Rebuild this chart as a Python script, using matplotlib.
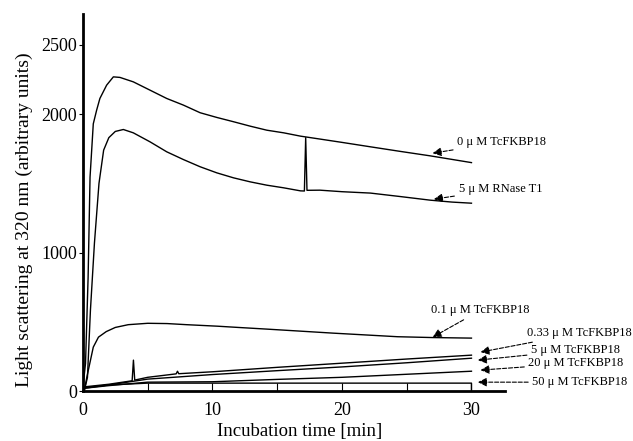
import matplotlib.pyplot as plt

plt.rcParams['font.family'] = ['Liberation Serif', 'DejaVu Serif']

# traces (time in min, light scattering a.u.)
t_0uM = [0, 0.2, 0.4, 0.55, 0.8, 1.06, 1.31, 1.83, 2.35, 2.86, 3.89, 5.18, 6.47,
         7.76, 9.05, 10.34, 11.63, 12.92, 14.2, 15.5, 16.8, 18.3, 20, 22.2, 24.5,
         26.8, 28.5, 30]
y_0uM = [30, 200, 820, 1545, 1930, 2029, 2113, 2209, 2269, 2265, 2233, 2173, 2113,
         2065, 2010, 1976, 1945, 1913, 1884, 1865, 1841, 1820, 1796, 1764, 1731,
         1699, 1673, 1650]

t_rnase = [0.1, 0.35, 0.58, 0.89, 1.24, 1.6, 2.0, 2.5, 3.12, 3.89, 5.18, 6.47, 7.76,
           9.05, 10.34, 11.63, 12.92, 14.2, 15.5, 16.8, 17.1, 17.2, 17.3, 18.3, 20,
           22.2, 24.5, 26.8, 28.5, 30]
y_rnase = [0, 100, 585, 1070, 1500, 1740, 1830, 1875, 1889, 1865, 1800, 1728, 1672,
           1620, 1576, 1540, 1511, 1487, 1468, 1446, 1445, 1830, 1450, 1451, 1440,
           1430, 1405, 1379, 1365, 1357]

t_01 = [0.1, 0.3, 0.8, 1.2, 1.8, 2.5, 3.5, 5, 6.5, 8, 10.4, 12, 14.2, 16.5, 19.3,
        22, 24.3, 27, 30]
y_01 = [0, 100, 318, 390, 430, 460, 480, 490, 488, 480, 469, 460, 448, 435, 419,
        405, 393, 387, 383]

t_033 = [0, 2, 3.8, 3.9, 4.0, 5, 7.2, 7.3, 7.4, 10, 15, 20, 25, 30]
y_033 = [30, 50, 75, 224, 80, 100, 125, 144, 126, 140, 172, 202, 232, 260]

t_5 = [0, 2, 5, 10, 15, 20, 25, 30]
y_5 = [25, 45, 87, 120, 148, 175, 205, 238]

t_20 = [0, 2, 5, 10, 15, 20, 25, 30]
y_20 = [20, 40, 65, 68, 85, 100, 122, 144]

t_50 = [0, 2, 5, 10, 20, 30, 30]
y_50 = [20, 45, 58, 58, 58, 58, 0]

# label text, arrow head (x, y), text position (x, y)
labels = ['0 \u03bc M TcFKBP18', '5 \u03bc M RNase T1', '0.1 \u03bc M TcFKBP18',
          '0.33 \u03bc M TcFKBP18', '5 \u03bc M TcFKBP18', '20 \u03bc M TcFKBP18',
          '50 \u03bc M TcFKBP18']
heads = [(27.0, 1718), (27.1, 1386), (27.0, 390), (30.7, 282), (30.5, 224),
         (30.7, 152), (30.5, 65)]
texts = [(28.9, 1798), (29.0, 1458), (30.7, 540), (34.3, 419), (34.6, 296),
         (34.4, 202), (34.7, 65)]

fig = plt.figure(figsize=(6.33, 4.41), dpi=100)
ax = fig.add_axes([0.131, 0.113, 0.667, 0.855])

for t, y in [(t_0uM, y_0uM), (t_rnase, y_rnase), (t_01, y_01), (t_033, y_033),
             (t_5, y_5), (t_20, y_20), (t_50, y_50)]:
    ax.plot(t, y, color='black', lw=1.0)

for lab, h, tx in zip(labels, heads, texts):
    ha = 'center' if lab.startswith('0.1 ') else 'left'
    va = 'bottom' if lab.startswith('0.1 ') else 'center'
    ax.annotate(lab, xy=h, xytext=tx, ha=ha, va=va, fontsize=9,
                annotation_clip=False,
                arrowprops=dict(arrowstyle='-|>', linestyle='--', color='black',
                                lw=0.8, mutation_scale=13, shrinkA=1, shrinkB=0))

ax.set_xlim(0, 32.6)
ax.set_ylim(0, 2722)
ax.set_xticks([0, 10, 20, 30])
ax.set_xticks([5, 15, 25], minor=True)
ax.set_yticks([0, 1000, 2000, 2500])
ax.tick_params(axis='x', which='both', direction='in', length=6, width=0.8,
               labelsize=13, pad=8)
ax.tick_params(axis='y', direction='out', length=3, width=0.8, labelsize=13, pad=1)
for s in ['top', 'right']:
    ax.spines[s].set_visible(False)
ax.spines['left'].set_linewidth(2)
ax.spines['bottom'].set_linewidth(2)

ax.set_xlabel('Incubation time [min]', fontsize=13.5)
ax.xaxis.set_label_coords(0.513, -0.085)
ax.set_ylabel('Light scattering at 320 nm (arbitrary units)', fontsize=14)
ax.yaxis.set_label_coords(-0.118, 0.456)

plt.savefig('out.png')
